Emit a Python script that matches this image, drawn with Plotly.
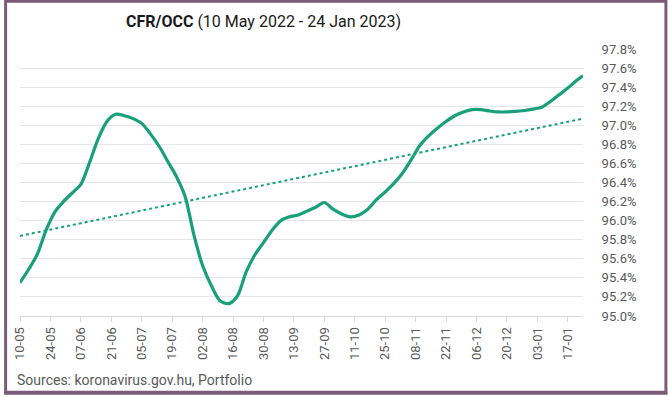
import plotly.graph_objects as go

dates = ["2022-05-10","2022-05-14","2022-05-18","2022-05-22","2022-05-26","2022-05-30","2022-06-03",
         "2022-06-07","2022-06-11","2022-06-15","2022-06-19","2022-06-23","2022-06-27","2022-07-01",
         "2022-07-05","2022-07-09","2022-07-13","2022-07-17","2022-07-21","2022-07-25","2022-07-29",
         "2022-08-02","2022-08-06","2022-08-10","2022-08-14","2022-08-18","2022-08-22","2022-08-26",
         "2022-08-30","2022-09-03","2022-09-07","2022-09-11","2022-09-15","2022-09-19","2022-09-23",
         "2022-09-27","2022-10-01","2022-10-05","2022-10-09","2022-10-13","2022-10-17","2022-10-21",
         "2022-10-25","2022-10-29","2022-11-02","2022-11-06","2022-11-10","2022-11-14","2022-11-18",
         "2022-11-22","2022-11-26","2022-11-30","2022-12-04","2022-12-08","2022-12-12","2022-12-16",
         "2022-12-20","2022-12-24","2022-12-28","2023-01-01","2023-01-05","2023-01-09","2023-01-13",
         "2023-01-17","2023-01-21","2023-01-24"]
cfr_occ = [95.35,95.49,95.65,95.90,96.09,96.20,96.29,
           96.38,96.61,96.86,97.04,97.115,97.10,97.07,
           97.02,96.91,96.78,96.62,96.46,96.25,95.85,
           95.53,95.32,95.16,95.13,95.21,95.46,95.64,
           95.77,95.90,96.00,96.04,96.06,96.10,96.14,
           96.19,96.12,96.07,96.04,96.06,96.12,96.22,
           96.30,96.39,96.50,96.64,96.79,96.89,96.97,
           97.04,97.10,97.14,97.165,97.165,97.15,97.14,
           97.14,97.145,97.155,97.17,97.19,97.25,97.32,
           97.39,97.47,97.52]

trend_dates = ["2022-05-10","2023-01-24"]
trend_vals = [95.84, 97.07]

tick_dates = ["2022-05-10","2022-05-24","2022-06-07","2022-06-21","2022-07-05","2022-07-19","2022-08-02",
              "2022-08-16","2022-08-30","2022-09-13","2022-09-27","2022-10-11","2022-10-25","2022-11-08",
              "2022-11-22","2022-12-06","2022-12-20","2023-01-03","2023-01-17"]
tick_labels = ["10-05","24-05","07-06","21-06","05-07","19-07","02-08","16-08","30-08","13-09",
               "27-09","11-10","25-10","08-11","22-11","06-12","20-12","03-01","17-01"]
y_ticks = [95.0 + 0.2*i for i in range(15)]

green = "#17a07a"
grey = "#595959"

fig = go.Figure()
fig.add_trace(go.Scatter(x=trend_dates, y=trend_vals, mode="lines",
                         line=dict(color=green, width=2, dash="dot"), hoverinfo="skip"))
fig.add_trace(go.Scatter(x=dates, y=cfr_occ, mode="lines",
                         line=dict(color=green, width=3.2, shape="spline", smoothing=0.8)))

W, H = 668, 397
L, R, T, B = 16, 583, 49.3, 316.3
pw, ph = R - L, B - T

def px(x):
    return (x - L) / pw

def py(y):
    return (B - y) / ph

border = "#7b5c79"
fig.update_layout(
    width=W, height=H,
    margin=dict(l=L, r=W - R, t=T, b=H - B, pad=0),
    paper_bgcolor="white", plot_bgcolor="white",
    showlegend=False,
    font=dict(family="Roboto, sans-serif", color=grey, size=13),
    xaxis=dict(type="date", range=["2022-05-10", "2023-01-24"],
               tickmode="array", tickvals=tick_dates, ticktext=tick_labels,
               tickangle=-90, showgrid=False, showline=True, linecolor="#d9d9d9", linewidth=1,
               ticks="outside", ticklen=5, tickcolor="#d9d9d9",
               tickfont=dict(size=13, color=grey), zeroline=False),
    yaxis=dict(range=[95.0, 97.8], side="right", tickmode="array", tickvals=y_ticks,
               ticktext=[f"{v:.1f}%" for v in y_ticks],
               showgrid=True, gridcolor="#e6e6e6", gridwidth=1, zeroline=False,
               ticks="outside", ticklen=15, tickcolor="rgba(0,0,0,0)",
               tickfont=dict(size=13, color=grey)),
    annotations=[
        dict(text="<b>CFR/OCC</b> (10 May 2022 - 24 Jan 2023)", xref="paper", yref="paper",
             x=px(261), y=py(22), xanchor="center", yanchor="middle", showarrow=False,
             font=dict(family="Roboto, sans-serif", size=16, color="#1a1a1a")),
        dict(text="Sources: koronavirus.gov.hu, Portfolio", xref="paper", yref="paper",
             x=px(11), y=py(380), xanchor="left", yanchor="middle", showarrow=False,
             font=dict(family="Roboto, sans-serif", size=14, color=grey)),
    ],
    shapes=[
        dict(type="rect", xref="paper", yref="paper",
             x0=px(1.5), x1=px(666.5), y0=py(393.5), y1=py(1.5),
             line=dict(color=border, width=3), fillcolor="rgba(0,0,0,0)", layer="above"),
        dict(type="line", xref="paper", yref="paper",
             x0=px(0), x1=px(668), y0=py(392.5), y1=py(392.5),
             line=dict(color=border, width=3), layer="above"),
    ],
)

fig.write_html("out.html", config={"displayModeBar": False},
               post_script="document.body.style.margin='0';document.body.style.overflow='hidden';")
